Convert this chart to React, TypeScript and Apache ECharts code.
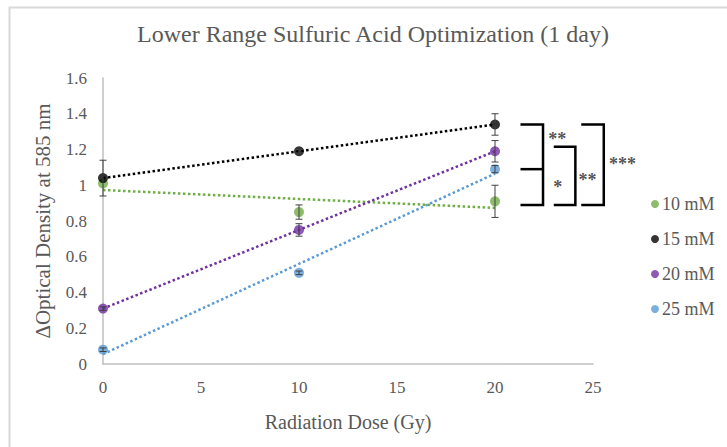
import React, { useEffect, useRef } from "react";
import * as echarts from "echarts";

const doses = [0, 10, 20];
const seriesNames = ["10 mM", "15 mM", "20 mM", "25 mM"];
const colors = ["#70ad47", "#000000", "#7030a0", "#5b9bd5"];
const mean10 = [1.01, 0.85, 0.91];
const mean15 = [1.04, 1.19, 1.34];
const mean20 = [0.31, 0.75, 1.19];
const mean25 = [0.08, 0.51, 1.09];
const err10 = [0.0, 0.04, 0.09];
const err15 = [0.1, 0.01, 0.06];
const err20 = [0.01, 0.035, 0.06];
const err25 = [0.01, 0.01, 0.02];
const yTicks = [0, 0.2, 0.4, 0.6, 0.8, 1, 1.2, 1.4, 1.6];
const xTicks = [0, 5, 10, 15, 20, 25];

// significance brackets: [xLeft, xRight, yTop, yMid (or null), yBottom]
const brackets: [number, number, number, number | null, number][] = [
  [21.3, 22.45, 1.34, 1.09, 0.89],
  [23.0, 24.1, 1.215, null, 0.89],
  [24.4, 25.55, 1.34, null, 0.89],
];
// star labels: [x, y, text]
const stars: [number, number, string][] = [
  [23.18, 1.26, "**"],
  [23.2, 0.99, "*"],
  [24.72, 1.03, "**"],
  [26.5, 1.12, "***"],
];

const means = [mean10, mean15, mean20, mean25];
const errs = [err10, err15, err20, err25];

function fit(xs: number[], ys: number[]) {
  const n = xs.length;
  const mx = xs.reduce((a, b) => a + b, 0) / n;
  const my = ys.reduce((a, b) => a + b, 0) / n;
  let sxy = 0, sxx = 0;
  for (let i = 0; i < n; i++) {
    sxy += (xs[i] - mx) * (ys[i] - my);
    sxx += (xs[i] - mx) * (xs[i] - mx);
  }
  const b = sxy / sxx;
  return [my - b * mx, b];
}

const FONT = "'Liberation Serif', 'DejaVu Serif', serif";
const GRAY = "#595959";

export default function App() {
  const ref = useRef<HTMLDivElement>(null);
  useEffect(() => {
    if (!ref.current) return;
    const chart = echarts.init(ref.current, null, { renderer: "svg" });
    const series: any[] = [];
    means.forEach((m, si) => {
      const [a, b] = fit(doses, m);
      series.push({
        name: seriesNames[si] + " trend",
        type: "line",
        data: [
          [doses[0], a + b * doses[0]],
          [doses[doses.length - 1], a + b * doses[doses.length - 1]],
        ],
        symbol: "none",
        lineStyle: { color: colors[si], width: 2.5, type: [2.5, 2.5] },
        z: 2,
        silent: true,
      });
    });
    means.forEach((m, si) => {
      series.push({
        name: seriesNames[si],
        type: "scatter",
        data: doses.map((d, i) => [d, m[i]]),
        symbol: "circle",
        symbolSize: 10,
        itemStyle: { color: colors[si] },
        z: 3,
      });
    });
    means.forEach((m, si) => {
      series.push({
        name: seriesNames[si] + " err",
        type: "custom",
        itemStyle: { color: "#404040" },
        data: doses.map((d, i) => [d, m[i] - errs[si][i], m[i] + errs[si][i]]),
        renderItem: (params: any, api: any) => {
          const x = api.value(0);
          const lo = api.coord([x, api.value(1)]);
          const hi = api.coord([x, api.value(2)]);
          if (Math.abs(hi[1] - lo[1]) < 1) return { type: "group", children: [] };
          const w = 3.5;
          const st = { stroke: "#404040", lineWidth: 1 };
          return {
            type: "group",
            children: [
              { type: "line", shape: { x1: lo[0], y1: lo[1], x2: hi[0], y2: hi[1] }, style: st },
              { type: "line", shape: { x1: lo[0] - w, y1: lo[1], x2: lo[0] + w, y2: lo[1] }, style: st },
              { type: "line", shape: { x1: hi[0] - w, y1: hi[1], x2: hi[0] + w, y2: hi[1] }, style: st },
            ],
          };
        },
        z: 4,
        silent: true,
      });
    });
    series.push({
      name: "brackets",
      type: "custom",
      clip: false,
      itemStyle: { color: "#000000" },
      data: brackets.map((b) => [b[0], b[1], b[2], b[3] == null ? NaN : b[3], b[4]]),
      renderItem: (params: any, api: any) => {
        const xl = api.value(0), xr = api.value(1);
        const top = api.coord([xl, api.value(2)]);
        const topR = api.coord([xr, api.value(2)]);
        const bot = api.coord([xl, api.value(4)]);
        const botR = api.coord([xr, api.value(4)]);
        const st = { stroke: "#000000", lineWidth: 2.5, fill: "none" };
        const children: any[] = [
          {
            type: "polyline",
            shape: { points: [top, topR, botR, bot] },
            style: st,
          },
        ];
        const ym = api.value(3);
        if (!isNaN(ym)) {
          const mid = api.coord([xl, ym]);
          const midR = api.coord([xr, ym]);
          children.push({ type: "line", shape: { x1: mid[0], y1: mid[1], x2: midR[0], y2: midR[1] }, style: st });
        }
        return { type: "group", children };
      },
      z: 5,
      silent: true,
    });
    series.push({
      name: "stars",
      type: "scatter",
      clip: false,
      symbolSize: 0,
      itemStyle: { color: "rgba(0,0,0,0)" },
      data: stars.map((s) => ({ value: [s[0], s[1]], label: { formatter: s[2] } })),
      label: {
        show: true,
        position: "inside",
        color: "#262626",
        fontFamily: FONT,
        fontSize: 18,
        fontWeight: "bold",
      },
      z: 5,
      silent: true,
    });

    chart.setOption({
      animation: false,
      backgroundColor: "#ffffff",
      textStyle: { fontFamily: FONT },
      graphic: [
        {
          type: "rect",
          shape: { x: 9.5, y: 7.5, width: 740, height: 460 },
          style: { fill: "none", stroke: "#d9d9d9", lineWidth: 2 },
          silent: true,
        },
      ],
      title: {
        text: "Lower Range Sulfuric Acid Optimization (1 day)",
        left: 373,
        textAlign: "center",
        top: 22,
        padding: 0,
        textStyle: { fontFamily: FONT, fontSize: 24, fontWeight: "normal", color: GRAY },
      },
      legend: {
        data: seriesNames,
        orient: "vertical",
        left: 651,
        top: 195,
        icon: "circle",
        itemWidth: 8,
        itemHeight: 8,
        itemGap: 17,
        padding: 0,
        textStyle: { fontFamily: FONT, fontSize: 18, color: GRAY, lineHeight: 16, padding: [0, 0, 0, -2] },
      },
      grid: { left: 103, right: 134, top: 78, bottom: 83 },
      xAxis: {
        type: "value",
        min: xTicks[0],
        max: xTicks[xTicks.length - 1],
        interval: xTicks[1] - xTicks[0],
        name: "Radiation Dose (Gy)",
        nameLocation: "middle",
        nameGap: 48,
        nameTextStyle: { fontFamily: FONT, fontSize: 20, color: GRAY },
        axisLine: { lineStyle: { color: "#bfbfbf", width: 1.5 } },
        axisTick: { show: false },
        splitLine: { show: false },
        axisLabel: { fontFamily: FONT, fontSize: 17, color: GRAY, margin: 15 },
      },
      yAxis: {
        type: "value",
        min: yTicks[0],
        max: yTicks[yTicks.length - 1],
        interval: 0.2,
        name: "\u0394Optical Density at 585 nm",
        nameLocation: "middle",
        nameGap: 50,
        nameTextStyle: { fontFamily: FONT, fontSize: 21, color: GRAY },
        axisLine: { show: true, lineStyle: { color: "#bfbfbf", width: 1.5 } },
        axisTick: { show: false },
        splitLine: { show: false },
        axisLabel: { fontFamily: FONT, fontSize: 17, color: GRAY, margin: 16 },
      },
      series,
    });
    return () => chart.dispose();
  }, []);
  return (
    <div
      ref={ref}
      style={{ position: "absolute", left: 0, top: 0, width: 727, height: 447 }}
    />
  );
}
